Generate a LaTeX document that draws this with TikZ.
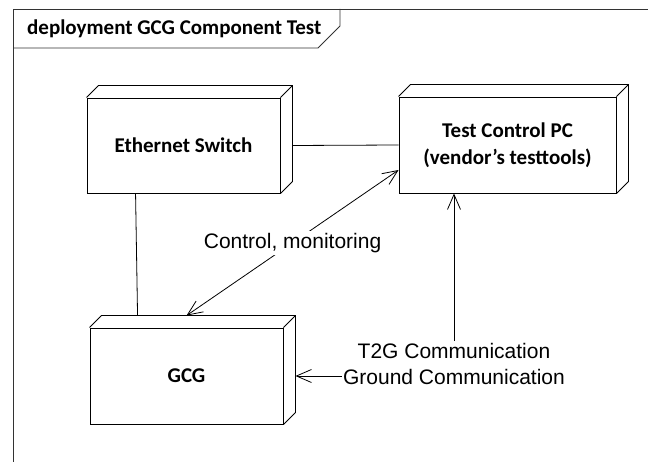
\documentclass[tikz,border=0pt]{standalone}
\usepackage{fontspec}
\setmainfont{Carlito}
\newfontfamily\arialfont{Liberation Sans}
\usetikzlibrary{arrows.meta}
\tikzset{
  frameline/.style={line width=0.9pt, black!80},
  boxline/.style={line width=0.9pt, black, line join=miter},
  nodebox/.style={boxline, draw, fill=white, align=center, inner sep=0pt,
    font=\bfseries\fontsize{21}{27}\selectfont},
  conn/.style={line width=0.8pt, black},
  barb/.style={-{Straight Barb[length=15pt, width=13pt, line width=0.8pt]}},
  barbboth/.style={{Straight Barb[length=15pt, width=13pt, line width=0.8pt]}-{Straight Barb[length=15pt, width=13pt, line width=0.8pt]}},
  lbl/.style={font=\arialfont\fontsize{21}{26}\selectfont, align=center,
    fill=white, inner xsep=1pt, inner ysep=2pt},
}
% top and side faces of a 3D node box
\newcommand\nodedepth[1]{%
  \draw[boxline] (#1.north west) -- ++(12,-12)
    -- ([shift={(12,-12)}]#1.north east)
    -- ([shift={(12,-12)}]#1.south east) -- (#1.south east)
    (#1.north east) -- ++(12,-12);}
\begin{document}
\begin{tikzpicture}[x=1pt,y=-1pt]
\useasboundingbox (0,0) rectangle (648,462);

% diagram frame with its name tab
\draw[frameline] (13,462) -- (13,9) -- (648,9);
\draw[frameline] (13,48) -- (318,48) -- (340,26) -- (340,9);
\node[anchor=west, inner sep=0pt, font=\bfseries\fontsize{21}{25}\selectfont]
  (title) at (27,29) {deployment GCG Component Test};

% nodes
\node[nodebox, minimum width=193pt, minimum height=95pt] (eth) at (183.5,145.5) {Ethernet Switch};
\node[nodebox, minimum width=217pt, minimum height=96pt] (pc) at (507.5,145) {Test Control PC\\(vendor’s testtools)};
\node[nodebox, minimum width=193pt, minimum height=96pt] (gcg) at (186.5,376) {GCG};
\nodedepth{eth}
\nodedepth{pc}
\nodedepth{gcg}

% connectors
\draw[conn] ([xshift=49pt]eth.south west) -- ([shift={(48,-12)}]gcg.north west);
\draw[conn] ([xshift=12pt]eth.east) -- (pc.west);
\draw[conn, barbboth] ([yshift=-25pt]pc.west)
  -- node[lbl] (cm) {Control, monitoring} ([shift={(97,-12)}]gcg.north west);

\node[lbl] (t2g) at (454,364) {T2G Communication\\Ground Communication};
\draw[conn, barb] (t2g.north) -- (t2g.north |- pc.south);
\draw[conn, barb] (t2g.west |- gcg.east) -- ([xshift=12pt]gcg.east);
\end{tikzpicture}
\end{document}
